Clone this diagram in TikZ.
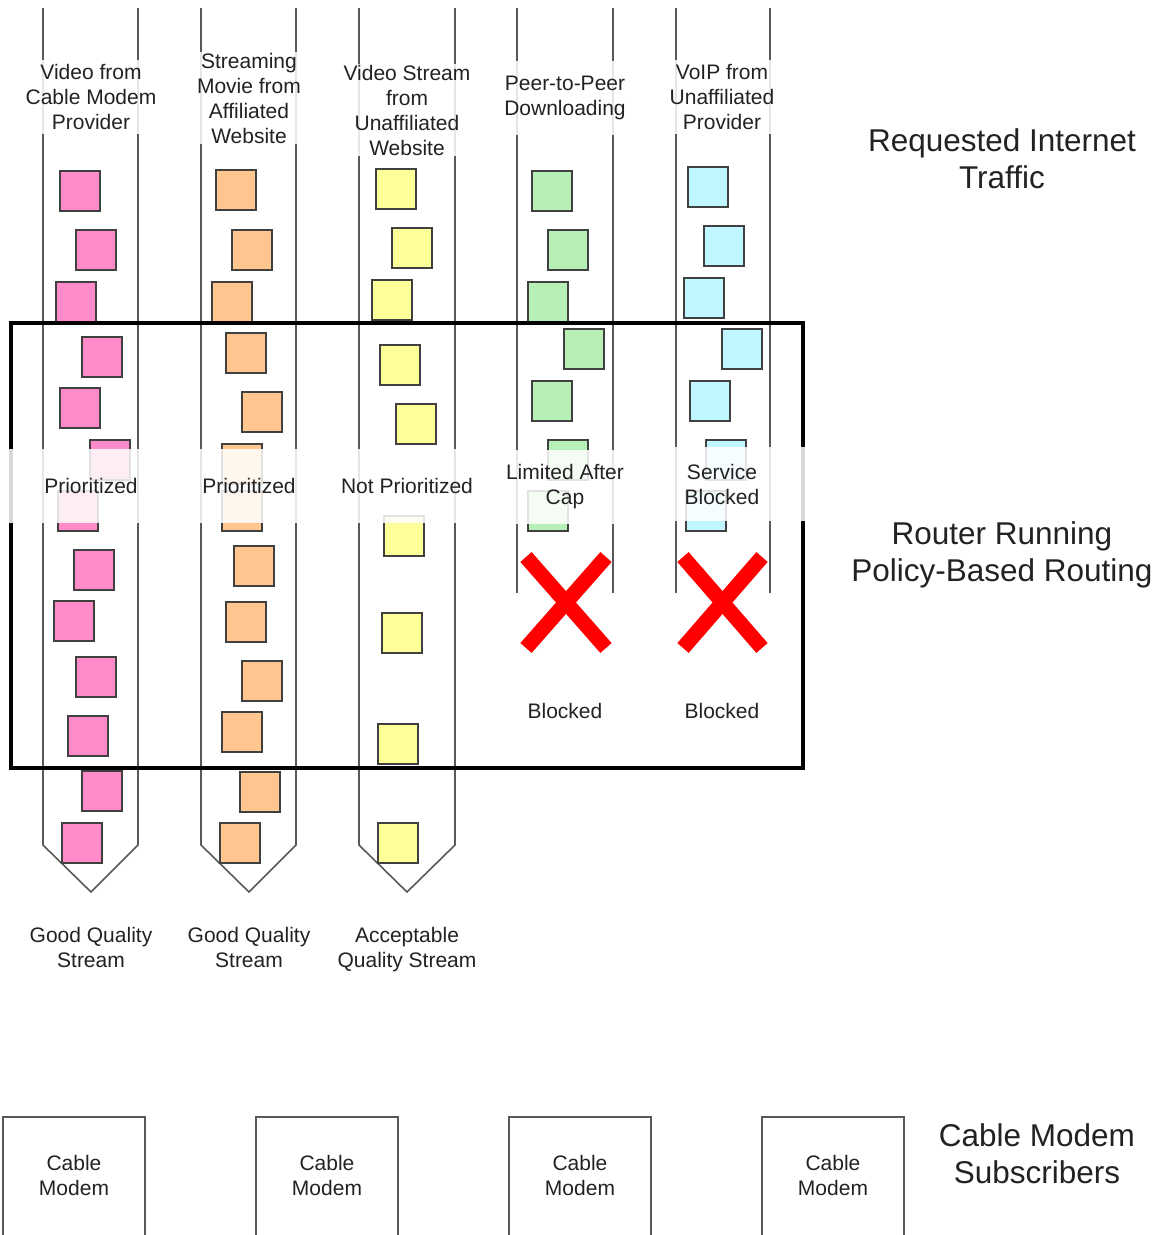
\documentclass[tikz,border=0pt]{standalone}
\usepackage{fontspec}
\setmainfont{Liberation Sans}
\definecolor{cpink}{HTML}{FF8CC8}
\definecolor{corange}{HTML}{FFC690}
\definecolor{cyellow}{HTML}{FFFF99}
\definecolor{cgreen}{HTML}{B6F0B6}
\definecolor{ccyan}{HTML}{BFF6FF}
\definecolor{ink}{HTML}{222222}
\begin{document}
\begin{tikzpicture}[x=1pt,y=-1pt,
  tube/.style={draw=black!65, line width=1.6pt},
  pkt/.style={draw=black!75, line width=1.6pt, minimum size=40pt, inner sep=0pt, anchor=north west},
  lbl/.style={font=\fontsize{21}{25}\selectfont, align=center, text=ink},
  shade/.style={lbl, fill=white, fill opacity=0.85, text opacity=1, minimum width=166pt, minimum height=74pt, inner sep=1pt},
  big/.style={font=\fontsize{31.5}{37}\selectfont, align=center, text=ink},
  cross/.style={draw=red, line width=15pt},
  modem/.style={draw=black!65, line width=1.6pt, minimum width=142pt, minimum height=120pt, inner sep=0pt}
]
\useasboundingbox (0,0) rectangle (1160,1235);
\clip (0,0) rectangle (1160,1235);

% tubes
\draw[tube] (43,8) -- (43,845) -- (91,892) -- (138,845) -- (138,8);
\draw[tube] (201,8) -- (201,845) -- (249,892) -- (296,845) -- (296,8);
\draw[tube] (359,8) -- (359,845) -- (407,892) -- (455,845) -- (455,8);
\draw[tube] (517,8) -- (517,593);
\draw[tube] (613,8) -- (613,593);
\draw[tube] (676,8) -- (676,593);
\draw[tube] (770,8) -- (770,593);

% packets
\foreach \x/\y [count=\i] in {59/170,75/229,55/281,81/336,59/387,89/439,57/490,73/549,53/600,75/656,67/715,81/770,61/822}
  \node[pkt, fill=cpink] (pa\i) at (\x,\y) {};
\foreach \x/\y [count=\i] in {215/169,231/229,211/281,225/332,241/391,221/443,221/490,233/545,225/601,241/660,221/711,239/771,219/822}
  \node[pkt, fill=corange] (pb\i) at (\x,\y) {};
\foreach \x/\y [count=\i] in {375/168,391/227,371/279,379/344,395/403,383/515,381/612,377/723,377/822}
  \node[pkt, fill=cyellow] (pc\i) at (\x,\y) {};
\foreach \x/\y [count=\i] in {531/170,547/229,527/281,563/328,531/380,547/439,527/490}
  \node[pkt, fill=cgreen] (pd\i) at (\x,\y) {};
\foreach \x/\y [count=\i] in {687/166,703/225,683/277,721/328,689/380,705/439,685/490}
  \node[pkt, fill=ccyan] (pe\i) at (\x,\y) {};

% red crosses
\draw[cross] (526,557) -- (606,648);
\draw[cross] (606,557) -- (526,648);
\draw[cross] (683,557) -- (762,648);
\draw[cross] (762,557) -- (683,648);

% router frame
\draw[line width=4pt] (11,323) rectangle (803,768);

% top labels
\node[shade] (t1) at (91,97) {Video from\\Cable Modem\\Provider};
\node[shade] (t2) at (249,98) {Streaming\\Movie from\\Affiliated\\Website};
\node[shade] (t3) at (407,110) {Video Stream\\from\\Unaffiliated\\Website};
\node[shade] (t4) at (565,98) {Peer-to-Peer\\Downloading};
\node[shade] (t5) at (722,97) {VoIP from\\Unaffiliated\\Provider};

% policy labels
\node[shade] (m1) at (91,486) {Prioritized};
\node[shade] (m2) at (249,486) {Prioritized};
\node[shade] (m3) at (407,486) {Not Prioritized};
\node[shade] (m4) at (565,487) {Limited After\\Cap};
\node[shade] (m5) at (722,484) {Service\\Blocked};

\node[lbl] (b4) at (565,711) {Blocked};
\node[lbl] (b5) at (722,711) {Blocked};

% outcome labels
\node[lbl] (o1) at (91,947) {Good Quality\\Stream};
\node[lbl] (o2) at (249,947) {Good Quality\\Stream};
\node[lbl] (o3) at (407,950) {Acceptable\\Quality Stream};

% right-hand titles
\node[big] (r1) at (1002,159) {Requested Internet\\Traffic};
\node[big] (r2) at (1002,555) {Router Running\\Policy-Based Routing};
\node[big] (r3) at (1037,1154) {Cable Modem\\Subscribers};

% cable modems
\foreach \x [count=\i] in {74,327,580,833} {
  \node[modem] (cm\i) at (\x,1177) {};
  \node[lbl] (cmt\i) at ([yshift=2pt]cm\i.center) {Cable\\Modem};
}
\end{tikzpicture}
\end{document}
